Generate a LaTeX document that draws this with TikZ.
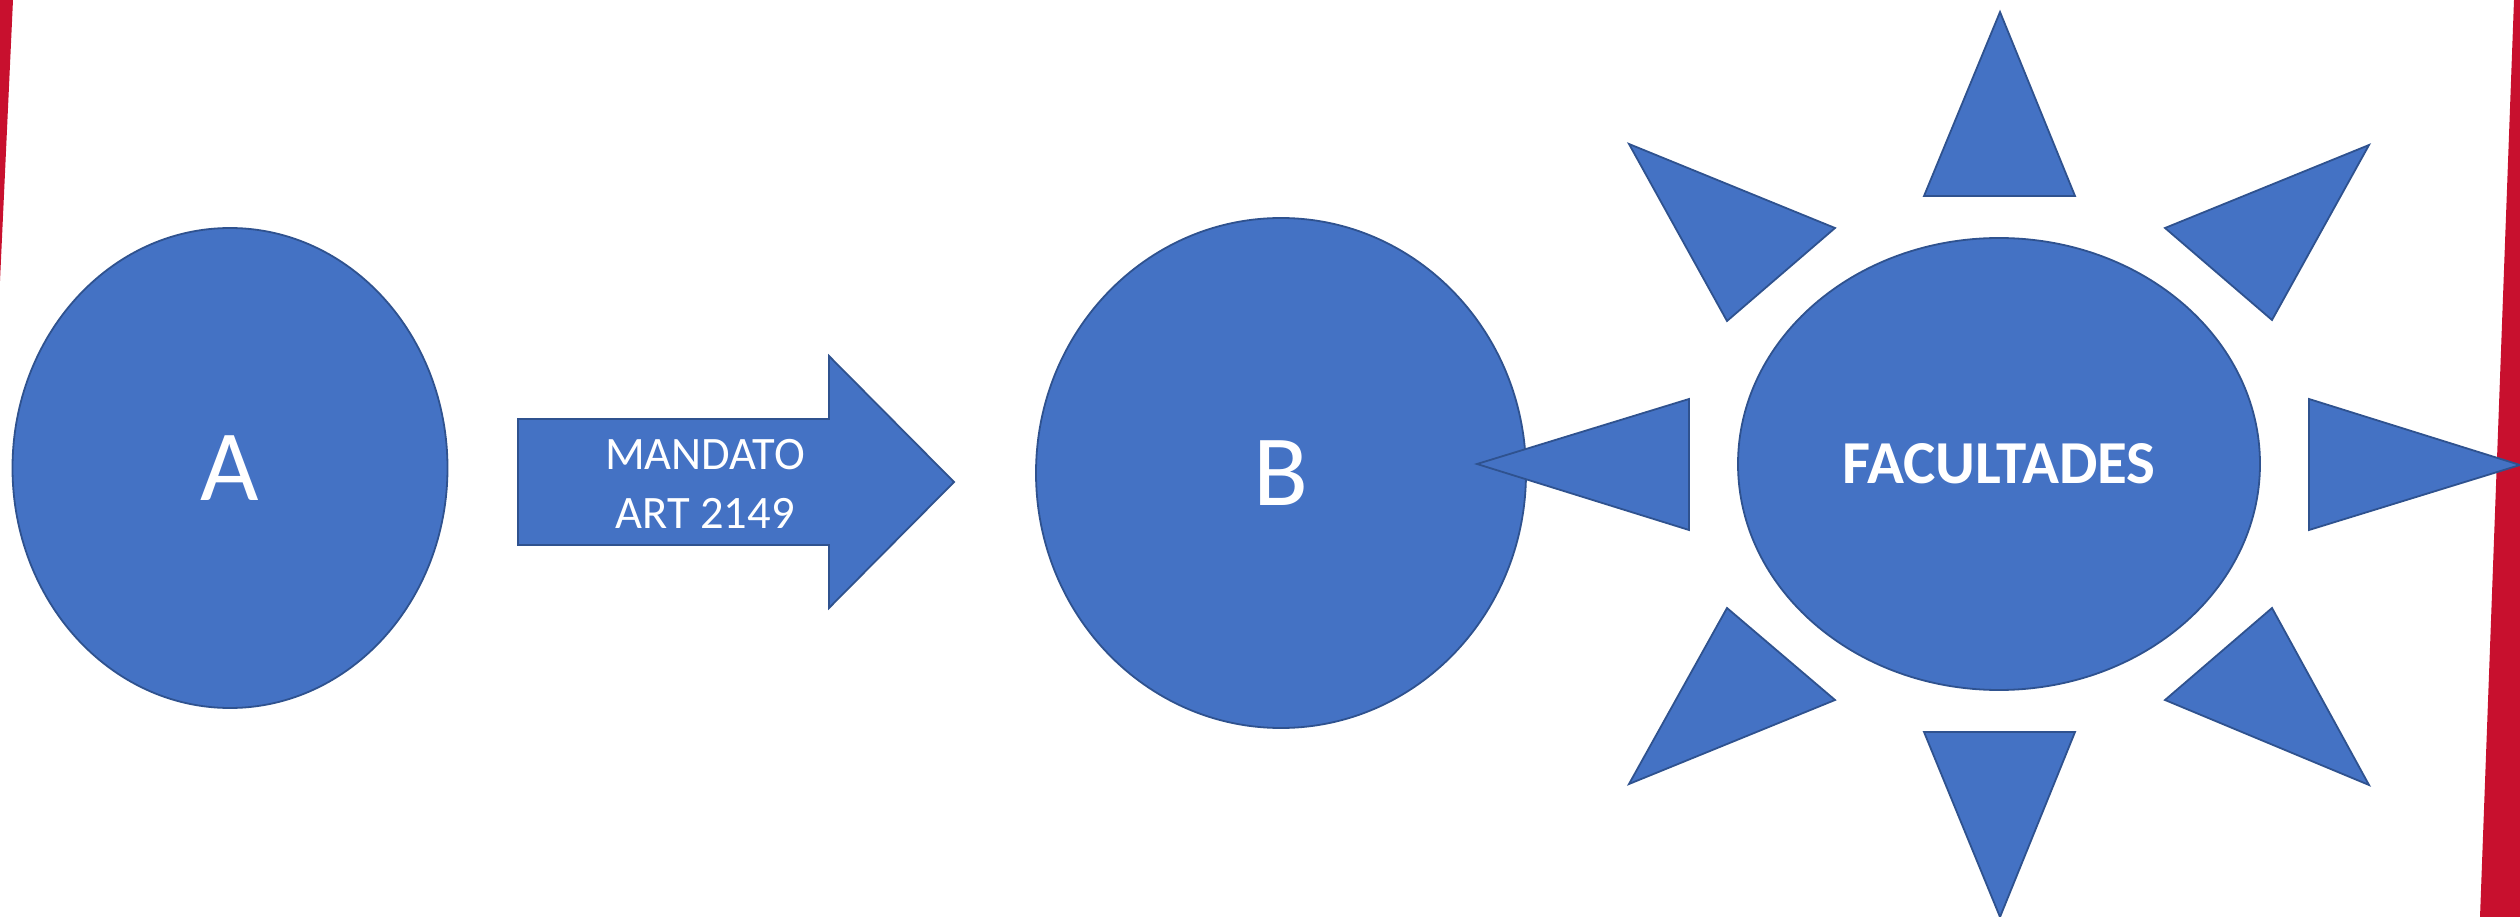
\documentclass[tikz,border=0pt]{standalone}
\usepackage{fontspec}
\setmainfont{Carlito}
\usetikzlibrary{shapes.geometric}
\definecolor{fillblue}{HTML}{4472C4}
\definecolor{edgeblue}{HTML}{2F528F}
\definecolor{stripered}{HTML}{C8102E}
\begin{document}
\begin{tikzpicture}[x=1pt,y=-1pt,
  shapeblue/.style={fill=fillblue, draw=edgeblue, line width=1.8pt, line join=miter},
  blob/.style={shapeblue, ellipse, inner sep=0pt, text=white},
  arrowtext/.style={text=white, inner sep=0pt, anchor=base, font=\fontsize{46.5}{56}\selectfont},
  ray/.style={shapeblue}
]
\useasboundingbox (0,0) rectangle (2520,917);
\fill[white] (0,0) rectangle (2520,917);
% red edge strips
\fill[stripered] (0,0) -- (13,0) -- (0,281) -- cycle;
\fill[stripered] (2514,0) -- (2520,0) -- (2520,917) -- (2480,917) -- cycle;

% A
\node[blob, minimum width=435pt, minimum height=480pt, font=\fontsize{101}{121}\selectfont] (A) at (230,468) {A};

% block arrow
\coordinate (tailtop) at (518,419);
\coordinate (neck1) at (829,419);
\coordinate (barb1) at (829,356);
\coordinate (tip) at (954,482);
\coordinate (barb2) at (829,608);
\coordinate (neck2) at (829,545);
\coordinate (tailbot) at (518,545);
\path[shapeblue] (tailtop) -- (neck1) -- (barb1) -- (tip) -- (barb2) -- (neck2) -- (tailbot) -- cycle;
\node[arrowtext] (mandato) at (705,469) {MANDATO};
\node[arrowtext] (art) at (705,528) {ART 2149};

% B
\node[blob, minimum width=490pt, minimum height=510pt, font=\fontsize{101}{121}\selectfont] (B) at (1281,473) {B};

% sun
\node[blob, minimum width=522pt, minimum height=452pt, font=\bfseries\fontsize{61}{73}\selectfont] (fac) at (1999,464) {FACULTADES};

% rays
\path[ray] (2000,12) -- (2075,196) -- (1924,196) -- cycle;
\path[ray] (2000,917) -- (2075,732) -- (1924,732) -- cycle;
\path[ray] (1477,464) -- (1689,399) -- (1689,530) -- cycle;
\path[ray] (2520,465) -- (2309,399) -- (2309,530) -- cycle;
\path[ray] (1629,144) -- (1835,228) -- (1727,321) -- cycle;
\path[ray] (2369,145) -- (2165,228) -- (2272,320) -- cycle;
\path[ray] (1629,784) -- (1835,700) -- (1727,608) -- cycle;
\path[ray] (2369,785) -- (2165,700) -- (2272,608) -- cycle;
\end{tikzpicture}
\end{document}
